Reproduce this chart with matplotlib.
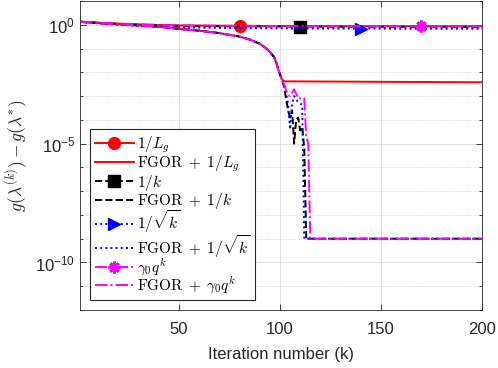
import numpy as np
import matplotlib.pyplot as plt
from matplotlib.ticker import FixedLocator, FixedFormatter, NullFormatter

plt.rcParams['font.family'] = ['Liberation Sans', 'DejaVu Sans']
plt.rcParams['mathtext.fontset'] = 'cm'

# fixed-step runs (no FGOR): slowly decreasing, stay near 1
k_base = [1, 10, 20, 30, 40, 50, 80, 110, 140, 170, 200]
red_base = [1.35, 1.22, 1.12, 1.04, 0.98, 0.94, 0.90, 0.88, 0.87, 0.87, 0.86]
black_base = [1.35, 1.20, 1.08, 1.00, 0.94, 0.90, 0.86, 0.84, 0.83, 0.83, 0.82]
blue_base = [1.35, 1.15, 1.00, 0.90, 0.82, 0.77, 0.72, 0.70, 0.69, 0.68, 0.68]
mag_base = [1.35, 1.22, 1.12, 1.04, 0.98, 0.94, 0.90, 0.88, 0.87, 0.87, 0.86]
marker_k = [80, 110, 140, 170]  # where each baseline shows its marker

# FGOR runs: common part (log10 values) up to k=101
k_common = [1, 20, 40, 50, 60, 70, 80, 85, 90, 93, 95, 97, 98, 99, 100, 101]
log_common = [0.12, 0.02, -0.08, -0.17, -0.25, -0.35, -0.50, -0.62, -0.80,
              -0.98, -1.14, -1.35, -1.55, -1.84, -2.10, -2.30]

# after k=101 (log10 values)
k_red_tail = [102, 200]
log_red_tail = [-2.38, -2.42]

k_black_tail = [102, 103, 104, 105, 106, 107, 108, 109, 110, 111, 112, 113, 200]
log_black_tail = [-2.6, -3.1, -3.6, -3.9, -3.6, -5.0, -4.0, -3.9, -4.45, -4.3, -5.2, -9.0, -9.0]

k_blue_tail = [102, 103, 104, 105, 106, 107, 108, 109, 110, 111, 112, 200]
log_blue_tail = [-2.55, -2.85, -3.35, -4.4, -3.3, -3.0, -3.15, -3.25, -3.3, -3.4, -9.0, -9.0]

k_mag_tail = [102, 103, 104, 105, 106, 107, 108, 109, 110, 111, 112, 113, 114, 115, 200]
log_mag_tail = [-2.5, -2.75, -2.95, -3.0, -2.85, -2.72, -2.9, -3.1, -3.1, -3.05, -3.1,
                -4.7, -5.0, -9.0, -9.0]

labels = [r'$1/L_g$', r'$\mathrm{FGOR}\;+\;1/L_g$', r'$1/k$', r'$\mathrm{FGOR}\;+\;1/k$',
          r'$1/\sqrt{k}$', r'$\mathrm{FGOR}\;+\;1/\sqrt{k}$', r'$\gamma_0 q^k$',
          r'$\mathrm{FGOR}\;+\;\gamma_0 q^k$']


def fgor(k_tail, log_tail):
    k = np.array(k_common + k_tail)
    return k, 10.0 ** np.array(log_common + log_tail)


fig = plt.figure(figsize=(4.98, 3.68), dpi=100)
ax = fig.add_axes([80 / 498, 58 / 368, 402 / 498, 309 / 368])

lw = 1.4
specs = [
    ('#ff0000', '-', 'o', red_base, k_red_tail, log_red_tail),
    ('#000000', '--', 's', black_base, k_black_tail, log_black_tail),
    ('#0000ff', ':', '>', blue_base, k_blue_tail, log_blue_tail),
    ('#ff00ff', '-.', (8, 2, 0), mag_base, k_mag_tail, log_mag_tail),
]
for i, (c, ls, mk, base, kt, lt) in enumerate(specs):
    idx = k_base.index(marker_k[i])
    ax.plot(k_base, base, color=c, ls=ls, lw=lw, marker=mk, ms=8.5,
            mew=2 if i == 3 else 1, markevery=[idx], label=labels[2 * i])
    kf, vf = fgor(kt, lt)
    ax.plot(kf, vf, color=c, ls=ls, lw=lw, label=labels[2 * i + 1])

ax.set_yscale('log')
ax.set_xlim(1, 200)
ax.set_ylim(1e-12, 10)
ax.set_xticks([50, 100, 150, 200])
ax.yaxis.set_major_locator(FixedLocator([1e-10, 1e-5, 1e0]))
ax.yaxis.set_major_formatter(FixedFormatter([r'$\mathdefault{10^{-10}}$',
                                             r'$\mathdefault{10^{-5}}$',
                                             r'$\mathdefault{10^{0}}$']))
ax.yaxis.set_minor_locator(FixedLocator([10.0 ** e for e in range(-12, 2)]))
ax.yaxis.set_minor_formatter(NullFormatter())

gc = '#262626'
ax.tick_params(which='both', direction='in', top=True, right=True,
               colors=gc, labelsize=12, width=0.6)
ax.tick_params(which='major', length=4)
ax.tick_params(which='minor', length=2.5)
ax.tick_params(axis='x', pad=9)
for s in ax.spines.values():
    s.set_color(gc)
    s.set_linewidth(0.6)
ax.grid(True, which='major', color='#dcdcdc', lw=0.6, ls='-')
ax.grid(True, which='minor', axis='y', color='#c8c8c8', lw=0.6, ls=':')
ax.set_axisbelow(True)

ax.set_xlabel('Iteration number (k)', fontsize=12, color=gc, labelpad=7)
ax.set_ylabel(r'$g(\lambda^{(k)}) - g(\lambda^{*})$', fontsize=12.5, color=gc)

fs = 11
leg = ax.legend(loc='upper left', bbox_to_anchor=(0.025, 0.587), borderaxespad=0,
                fontsize=fs, handlelength=2.6, handletextpad=0.2, handleheight=1.7,
                labelspacing=-0.18, fancybox=False, framealpha=1, edgecolor=gc,
                borderpad=0.3)
leg.get_frame().set_linewidth(0.8)
# lower the legend lines a little so they sit at mid-text height
for h in leg.legend_handles:
    h.set_ydata(np.asarray(h.get_ydata()) - 0.15 * fs)

fig.savefig('out.png', dpi=100)
